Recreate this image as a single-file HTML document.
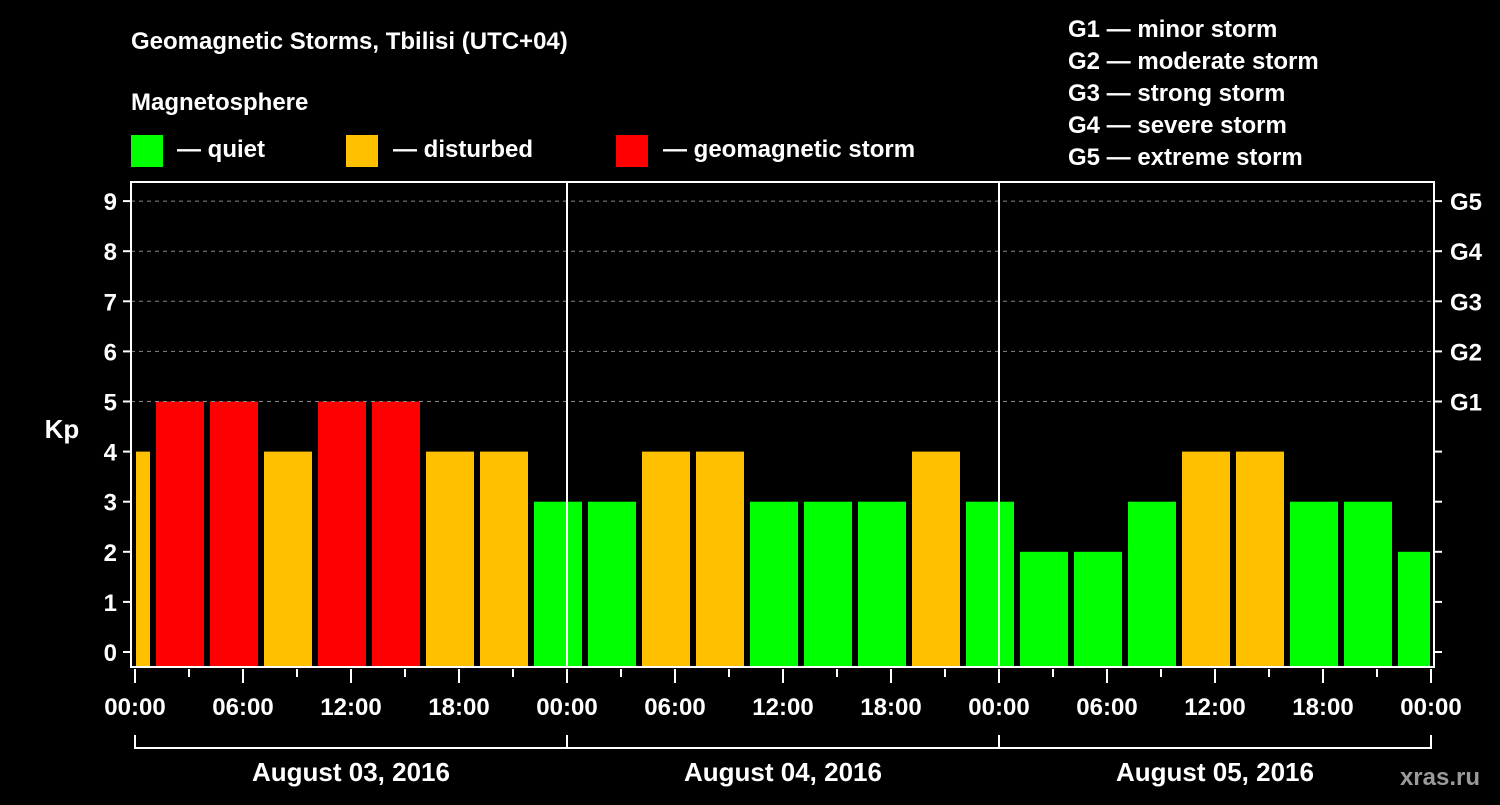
<!DOCTYPE html>
<html><head><meta charset="utf-8"><style>
body{margin:0;background:#000;}
svg text{font-family:"Liberation Sans",sans-serif;font-weight:bold;fill:#fff;}
</style></head><body>
<svg id="c" width="1500" height="800" xmlns="http://www.w3.org/2000/svg">
<rect width="1500" height="800" fill="#000"/>
<text x="131" y="49" font-size="24">Geomagnetic Storms, Tbilisi (UTC+04)</text>
<text x="131" y="110" font-size="24">Magnetosphere</text>
<g><rect x="131" y="135" width="32" height="32" fill="#00ff00"/><text x="177" y="157" font-size="24">— quiet</text></g>
<g><rect x="346" y="135" width="32" height="32" fill="#ffc000"/><text x="393" y="157" font-size="24">— disturbed</text></g>
<g><rect x="616" y="135" width="32" height="32" fill="#ff0000"/><text x="663" y="157" font-size="24">— geomagnetic storm</text></g>
<g font-size="24">
<text x="1068" y="37">G1 — minor storm</text>
<text x="1068" y="69">G2 — moderate storm</text>
<text x="1068" y="101">G3 — strong storm</text>
<text x="1068" y="133">G4 — severe storm</text>
<text x="1068" y="165">G5 — extreme storm</text>
</g>
<text x="1480" y="785" font-size="24" text-anchor="end" fill="#999" style="fill:#9a9a9a">xras.ru</text>
<text x="62" y="438" font-size="26" text-anchor="middle">Kp</text>
<g id="plot"></g>
</svg>
<script>
const kpValues=[4,5,5,4,5,5,4,4,3,3,4,4,3,3,3,4,3,2,2,3,4,4,3,3,2];
const yTicks=[0,1,2,3,4,5,6,7,8,9];
const gLabels=["G1","G2","G3","G4","G5"];
const xTickLabels=["00:00","06:00","12:00","18:00","00:00","06:00","12:00","18:00","00:00","06:00","12:00","18:00","00:00"];
const dayLabels=["August 03, 2016","August 04, 2016","August 05, 2016"];
const NS="http://www.w3.org/2000/svg";
const g=document.getElementById('plot');
const L=131,R=1434,T=182,B=667,X0=135,PX_H=18;
const y=k=>652-50.1*k;
const x=h=>X0+h*PX_H;
function mk(t,a){const e=document.createElementNS(NS,t);for(const k in a)e.setAttribute(k,a[k]);g.appendChild(e);return e;}
function col(k){return k>=5?"#ff0000":k>=4?"#ffc000":"#00ff00";}
kpValues.forEach((k,i)=>{
  const c=x(i*3-0.5);let x1=c-24,x2=c+24;x1=Math.max(x1,X0+1);x2=Math.min(x2,R-4);
  const r=mk('rect',{x:x1,y:y(k),width:x2-x1,height:B-y(k),fill:col(k)});
  
  
});
for(let k=5;k<=9;k++){const l=mk('line',{x1:L,x2:R,y1:y(k),y2:y(k),stroke:"#888",'stroke-dasharray':"4,4"});
  
  }
yTicks.forEach(k=>{
  mk('line',{x1:L-8,x2:L,y1:y(k),y2:y(k),stroke:"#fff",'stroke-width':2});
  mk('line',{x1:R,x2:R+8,y1:y(k),y2:y(k),stroke:"#fff",'stroke-width':2});
  const t=mk('text',{x:L-14,y:y(k)+9,'font-size':24,'text-anchor':'end'});t.textContent=k;
  
  
});
gLabels.forEach((s,i)=>{const t=mk('text',{x:R+16,y:y(5+i)+9,'font-size':24});t.textContent=s;
  
  });
const fr=mk('rect',{x:L,y:T,width:R-L,height:B-T,fill:'none',stroke:'#fff','stroke-width':2});


[1,2].forEach(d=>{mk('line',{x1:x(d*24),x2:x(d*24),y1:T,y2:B,stroke:'#fff','stroke-width':2});});
for(let h=0;h<=72;h+=3){mk('line',{x1:x(h),x2:x(h),y1:B+2,y2:B+(h%6==0?16:10),stroke:'#fff','stroke-width':2});}
xTickLabels.forEach((s,i)=>{const t=mk('text',{x:x(i*6),y:715,'font-size':24,'text-anchor':'middle'});t.textContent=s;
  
  });
mk('line',{x1:x(0),x2:x(72),y1:748,y2:748,stroke:'#fff','stroke-width':2});
for(let d=0;d<=3;d++)mk('line',{x1:x(d*24),x2:x(d*24),y1:735,y2:749,stroke:'#fff','stroke-width':2});
dayLabels.forEach((s,i)=>{const t=mk('text',{x:x(i*24+12),y:781,'font-size':26,'text-anchor':'middle'});t.textContent=s;
  
  });
</script>
</body></html>
